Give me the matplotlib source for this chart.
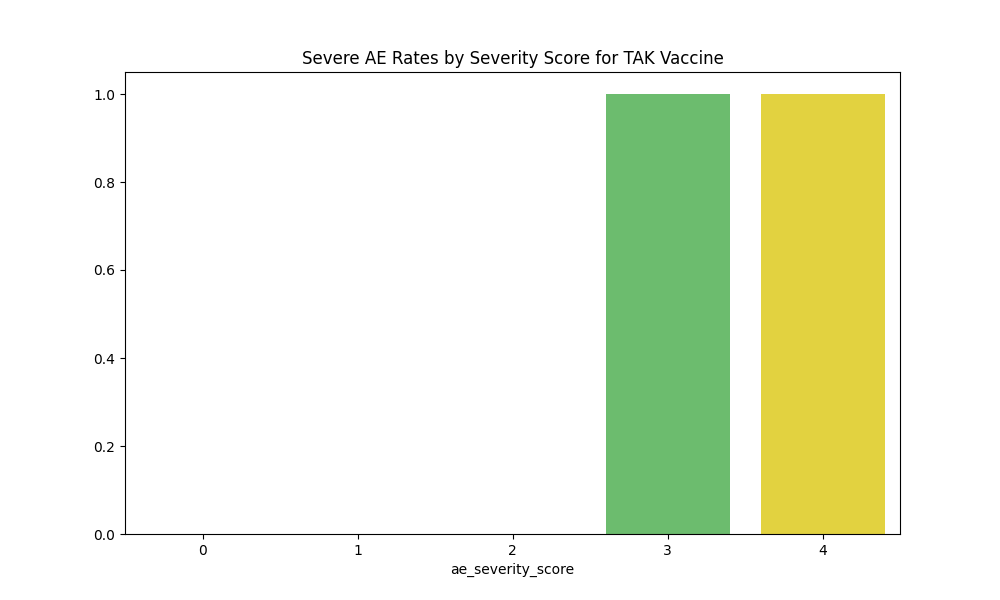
import matplotlib
matplotlib.use("Agg")
import matplotlib.pyplot as plt
import seaborn as sns
import pandas as pd

# severe AE rate per severity score
scores = [0, 1, 2, 3, 4]
rates = [0.0, 0.0, 0.0, 1.0, 1.0]

df = pd.DataFrame({"ae_severity_score": scores, "rate": rates})

plt.figure(figsize=(10, 6))
sns.barplot(data=df, x="ae_severity_score", y="rate", hue="ae_severity_score",
            palette="viridis", legend=False)
plt.title("Severe AE Rates by Severity Score for TAK Vaccine")
plt.ylabel("")
plt.savefig("out.png", dpi=100)
